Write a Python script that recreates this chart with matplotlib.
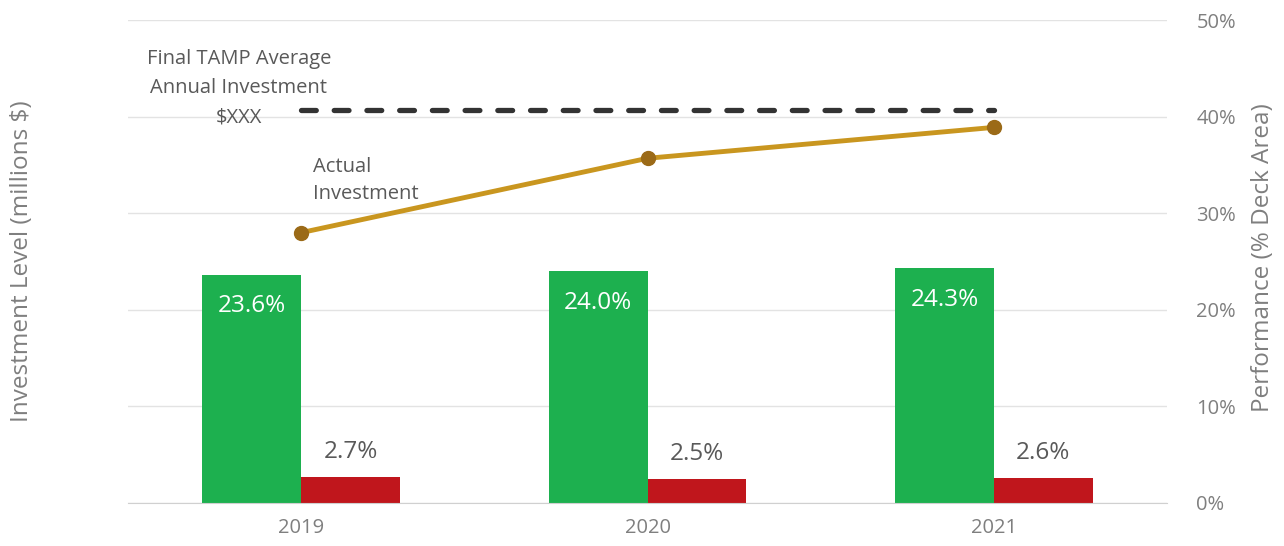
import numpy as np
import matplotlib.pyplot as plt
from matplotlib.ticker import PercentFormatter

plt.rcParams['font.family'] = ['Open Sans', 'DejaVu Sans']

years = ['2019', '2020', '2021']
perf_good = [23.6, 24.0, 24.3]
perf_poor = [2.7, 2.5, 2.6]
actual_investment = [28.0, 35.7, 38.9]
target_investment = 40.7

green = '#1db04f'
red = '#c0161c'
gold = '#c9961f'
gold_dark = '#9b6a17'
text_gray = '#595959'
axis_gray = '#7f7f7f'

x = np.arange(len(years))
w = 0.285

fig = plt.figure(figsize=(12.84, 5.46), dpi=100)
ax = fig.add_axes([0.0997, 0.0788, 0.8093, 0.8842])
# investment line on a hidden left scale, drawn above the bars
ax2 = ax.twinx()

# performance bars on the right-hand scale
ax.bar(x - w / 2, perf_good, w, color=green, zorder=2)
ax.bar(x + w / 2, perf_poor, w, color=red, zorder=2)
for i in range(len(years)):
    ax.text(x[i] - w / 2, perf_good[i] - 2.0, f'{perf_good[i]:.1f}%', ha='center', va='top',
            color='white', fontsize=17.5)
    ax.text(x[i] + w / 2, perf_poor[i] + 1.3, f'{perf_poor[i]:.1f}%', ha='center', va='bottom',
            color=text_gray, fontsize=17.5)

ax.set_xlim(-0.5, 2.5)
ax.set_ylim(0, 50)
ax.set_yticks(np.arange(0, 51, 10))
ax.yaxis.set_major_formatter(PercentFormatter(decimals=0))
ax.yaxis.tick_right()
ax.set_xticks(x)
ax.set_xticklabels(years)
ax.tick_params(axis='both', length=0, colors=axis_gray, labelsize=14.5)
ax.tick_params(axis='y', pad=21)
ax.tick_params(axis='x', pad=11)
ax.grid(axis='y', color='#e3e3e3', linewidth=1, zorder=0)
for s in ['top', 'left', 'right']:
    ax.spines[s].set_visible(False)
ax.spines['bottom'].set_color('#d0d0d0')

ax2.set_ylim(0, 50)
ax2.plot(x, actual_investment, color=gold, linewidth=3.5, marker='o', markersize=10,
         markerfacecolor=gold_dark, markeredgecolor=gold_dark, zorder=3)
ax2.plot([x[0], x[-1]], [target_investment] * 2, color='#333333', linewidth=3.8,
         linestyle=(0, (2.8, 3.4)), dash_capstyle='round')
ax2.set_yticks([])
for s in ax2.spines.values():
    s.set_visible(False)

ax2.text(-0.18, 42.96, 'Final TAMP Average\nAnnual Investment\n$XXX', ha='center', va='center',
         color=text_gray, fontsize=14.5, linespacing=1.6)
ax2.text(0.035, 33.4, 'Actual\nInvestment', ha='left', va='center',
         color=text_gray, fontsize=14.5, linespacing=1.5)

# axis titles
fig.text(22 / 1284, 1 - 261 / 546, 'Investment Level (millions $)', rotation=90,
         ha='center', va='center', color=axis_gray, fontsize=17.5)
fig.text(1263 / 1284, 1 - 258 / 546, 'Performance (% Deck Area)', rotation=90,
         ha='center', va='center', color=axis_gray, fontsize=17.5)

fig.savefig('out.png')
